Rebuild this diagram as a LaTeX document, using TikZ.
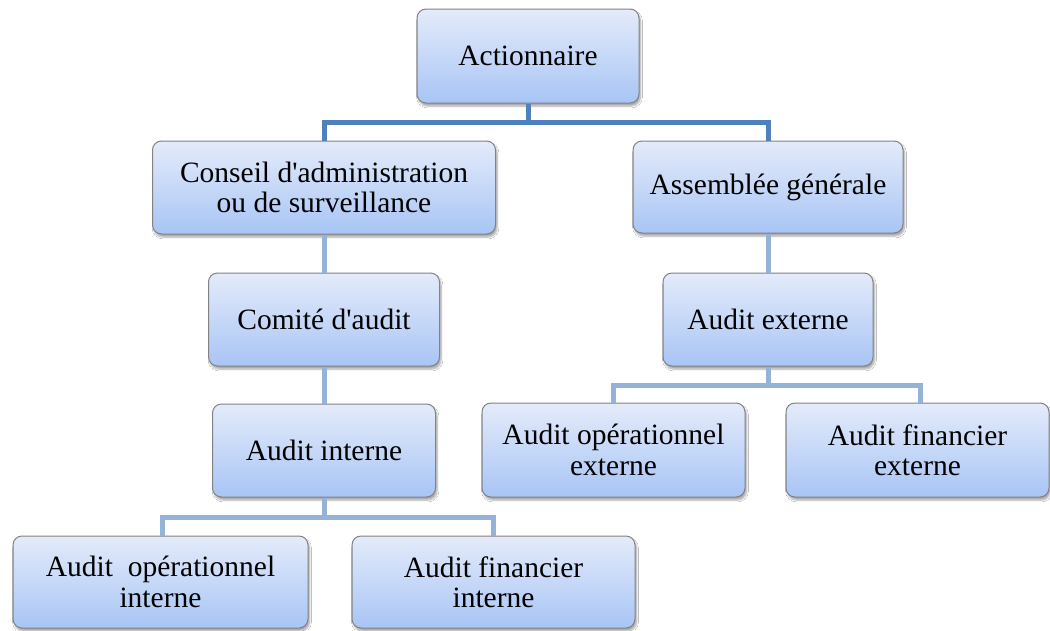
\documentclass[tikz,border=0pt]{standalone}
\usepackage{fontspec}
\setmainfont{Liberation Serif}[Ligatures=TeXOff]
\usetikzlibrary{shadows.blur}
\definecolor{boxtop}{RGB}{228,235,250}
\definecolor{boxbot}{RGB}{168,197,245}
\definecolor{boxline}{RGB}{130,130,130}
\definecolor{conndark}{RGB}{79,129,189}
\definecolor{connlight}{RGB}{149,179,215}
\tikzset{
  orgbox/.style={draw=boxline, line width=1pt, rounded corners=9pt,
    top color=boxtop, bottom color=boxbot, align=center,
    minimum height=93pt, inner sep=0pt,
    font=\fontsize{29.5}{30.5}\selectfont,
    blur shadow={shadow xshift=1.5pt, shadow yshift=-3pt,
      shadow blur steps=6, shadow opacity=35}},
  topconn/.style={draw=conndark, line width=5pt},
  subconn/.style={draw=connlight, line width=5pt}
}
\begin{document}
\begin{tikzpicture}[x=1pt, y=-1pt]
\useasboundingbox[fill=white] (0,0) rectangle (1050,630);

% junction points of the connector bars
\coordinate (j1) at (528,122);
\coordinate (j2) at (768,385);
\coordinate (j3) at (324,517);

% boxes
\node[orgbox, minimum width=222pt, minimum height=94pt] (act) at (528,56) {Actionnaire};
\node[orgbox, minimum width=343pt] (cons) at (324,187.5) {Conseil d'administration\\ou de surveillance};
\node[orgbox, minimum width=270pt, minimum height=92pt] (ass) at (768,187) {Assemblée générale};
\node[orgbox, minimum width=231pt] (com) at (324,319.5) {Comité d'audit};
\node[orgbox, minimum width=210pt] (ext) at (768,319.5) {Audit externe};
\node[orgbox, minimum width=223pt] (int) at (324,450.5) {Audit interne};
\node[orgbox, minimum width=263pt, minimum height=94pt] (opext) at (613.5,450) {Audit opérationnel\\externe};
\node[orgbox, minimum width=263pt, minimum height=94pt] (finext) at (917.5,450) {Audit financier\\externe};
\node[orgbox, minimum width=295pt, minimum height=92pt] (opint) at (160.5,582) {Audit~~opérationnel\\interne};
\node[orgbox, minimum width=283pt, minimum height=92pt] (finint) at (493.5,582) {Audit financier\\interne};

% connectors between the boxes
\draw[topconn] (act.south) -- (j1);
\draw[topconn] (cons.north) |- (j1) -| (ass.north);
\draw[subconn] (cons.south) -- (com.north);
\draw[subconn] (com.south) -- (int.north);
\draw[subconn] (ass.south) -- (ext.north);
\draw[subconn] (ext.south) -- (j2);
\draw[subconn] (opext.north) |- (j2) -| ([xshift=2.5pt]finext.north);
\draw[subconn] (int.south) -- (j3);
\draw[subconn] ([xshift=1.5pt]opint.north) |- (j3) -| (finint.north);
\end{tikzpicture}
\end{document}
